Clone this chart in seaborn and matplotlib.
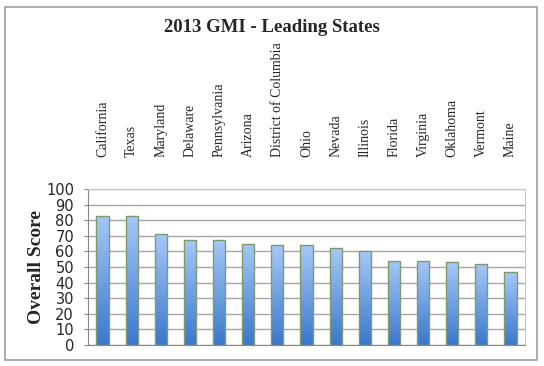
import numpy as np
import matplotlib
matplotlib.use("Agg")
import matplotlib.pyplot as plt
from matplotlib.colors import LinearSegmentedColormap
from matplotlib.patches import Rectangle
import pandas as pd
import seaborn as sns

states = ["California", "Texas", "Maryland", "Delaware", "Pennsylvania", "Arizona",
          "District of Columbia", "Ohio", "Nevada", "Illinois", "Florida", "Virginia",
          "Oklahoma", "Vermont", "Maine"]
scores = [83, 83, 71, 67, 67, 65, 64, 64, 62, 60, 54, 54, 53, 52, 47]
y_ticks = list(range(0, 101, 10))

df = pd.DataFrame({"State": states, "Score": scores})

sns.set_style("white")
serif = ["Liberation Serif", "DejaVu Serif"]

fig = plt.figure(figsize=(5.44, 3.66), dpi=100)
ax = fig.add_axes([88 / 544, 1 - 345 / 366, 437 / 544, 156 / 366])

sns.barplot(data=df, x="State", y="Score", ax=ax, width=0.42,
            color="#5b95dd", edgecolor="#7f9a6e", linewidth=1.0, zorder=3)

# gradient fill inside each bar
cmap = LinearSegmentedColormap.from_list("bar", ["#3a78cc", "#a5c9f7"])
grad = np.linspace(0, 1, 256).reshape(-1, 1)
for p in ax.patches:
    x0, y0 = p.get_x(), p.get_y()
    w, h = p.get_width(), p.get_height()
    im = ax.imshow(grad, cmap=cmap, origin="lower", aspect="auto",
                   extent=[x0, x0 + w, y0, y0 + h], zorder=2.5)
    im.set_clip_path(p)
    p.set_facecolor("none")

ax.set_xlim(-0.5, len(states) - 0.5)
ax.set_ylim(0, 100)
ax.set_yticks(y_ticks)
ax.tick_params(axis="y", labelsize=10.5, length=3, pad=7, left=True, color="#888888")
for t in ax.get_yticklabels():
    t.set_fontfamily("DejaVu Sans")

ax.xaxis.tick_top()
ax.tick_params(axis="x", length=0, pad=23)
ax.set_xticks(range(len(states)))
ax.set_xticklabels(states, rotation=90, fontsize=10, family=serif, va="bottom")
ax.set_xlabel("")

ax.grid(axis="y", color="#a6a6a6", linewidth=1.0, zorder=0)
ax.set_axisbelow(True)
for s in ax.spines.values():
    s.set_color("#c9c9a8")
    s.set_linewidth(0.8)
ax.spines["left"].set_color("#888888")
ax.spines["bottom"].set_color("#888888")

ax.set_ylabel("Overall Score", fontsize=14, fontweight="bold", family=serif, labelpad=1)

fig.text(0.5, 1 - 27 / 366, "2013 GMI - Leading States", ha="center", va="center",
         fontsize=13.5, fontweight="bold", family=serif)

fig.patches.append(Rectangle((5 / 544, 1 - 360 / 366), 532 / 544, 353 / 366,
                             transform=fig.transFigure, fill=False,
                             edgecolor="#a0a0a0", linewidth=1.2))

fig.savefig("out.png", dpi=100)
